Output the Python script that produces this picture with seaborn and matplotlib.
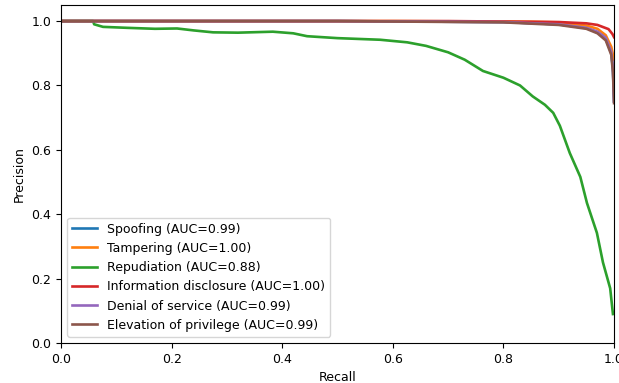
import pandas as pd
import matplotlib
matplotlib.use("Agg")
import matplotlib.pyplot as plt
import seaborn as sns

# Precision-recall curve points
labels = [
    "Spoofing (AUC=0.99)",
    "Tampering (AUC=1.00)",
    "Repudiation (AUC=0.88)",
    "Information disclosure (AUC=1.00)",
    "Denial of service (AUC=0.99)",
    "Elevation of privilege (AUC=0.99)",
]

spoof_recall = [0.0, 0.5, 0.8, 0.9, 0.95, 0.97, 0.985, 0.995, 0.998, 1.0]
spoof_prec = [1.0, 1.0, 0.997, 0.99, 0.978, 0.965, 0.945, 0.9, 0.85, 0.75]

tamper_recall = [0.0, 0.6, 0.85, 0.9, 0.95, 0.97, 0.985, 0.995, 1.0]
tamper_prec = [1.0, 1.0, 0.998, 0.996, 0.986, 0.976, 0.956, 0.92, 0.88]

repud_recall = [0.0, 0.058, 0.06, 0.076, 0.12, 0.17, 0.21, 0.24, 0.275, 0.32,
                0.383, 0.42, 0.445, 0.5, 0.577, 0.626, 0.66, 0.7, 0.73, 0.763,
                0.8, 0.83, 0.853, 0.875, 0.89, 0.902, 0.92, 0.939, 0.951,
                0.969, 0.98, 0.993, 0.998]
repud_prec = [1.0, 1.0, 0.99, 0.982, 0.979, 0.976, 0.977, 0.971, 0.965, 0.964,
              0.967, 0.962, 0.953, 0.947, 0.942, 0.934, 0.923, 0.903, 0.88,
              0.845, 0.824, 0.8, 0.766, 0.74, 0.715, 0.675, 0.59, 0.516,
              0.435, 0.342, 0.25, 0.17, 0.09]

info_recall = [0.0, 0.7, 0.9, 0.95, 0.97, 0.99, 0.997, 1.0]
info_prec = [1.0, 1.0, 0.997, 0.993, 0.988, 0.975, 0.96, 0.95]

dos_recall = [0.0, 0.5, 0.8, 0.9, 0.95, 0.97, 0.985, 0.995, 0.998, 1.0]
dos_prec = [1.0, 1.0, 0.997, 0.99, 0.979, 0.967, 0.948, 0.905, 0.855, 0.75]

elev_recall = [0.0, 0.5, 0.8, 0.9, 0.95, 0.97, 0.985, 0.995, 0.998, 1.0]
elev_prec = [1.0, 1.0, 0.996, 0.988, 0.976, 0.962, 0.94, 0.895, 0.84, 0.745]

colors = ["#1f77b4", "#ff7f0e", "#2ca02c", "#d62728", "#9467bd", "#8c564b"]

curves = [
    (spoof_recall, spoof_prec),
    (tamper_recall, tamper_prec),
    (repud_recall, repud_prec),
    (info_recall, info_prec),
    (dos_recall, dos_prec),
    (elev_recall, elev_prec),
]

frames = []
for lab, (r, p) in zip(labels, curves):
    frames.append(pd.DataFrame({"Recall": r, "Precision": p, "curve": lab}))
df = pd.concat(frames, ignore_index=True)

fig = plt.figure(figsize=(6.19, 3.83), dpi=100)
ax = fig.add_axes([0.0985, 0.1044, 0.8935, 0.8826])

sns.lineplot(data=df, x="Recall", y="Precision", hue="curve",
             hue_order=labels, palette=colors, sort=False, estimator=None,
             linewidth=1.9, ax=ax)

ax.set_xlim(0, 1)
ax.set_ylim(0, 1.05)
ax.set_xlabel("Recall", fontsize=9)
ax.set_ylabel("Precision", fontsize=9)
ax.tick_params(labelsize=9)

handles, labs = ax.get_legend_handles_labels()
ax.legend(handles, labs, loc="lower left", fontsize=9)

plt.savefig("out.png", dpi=100)
